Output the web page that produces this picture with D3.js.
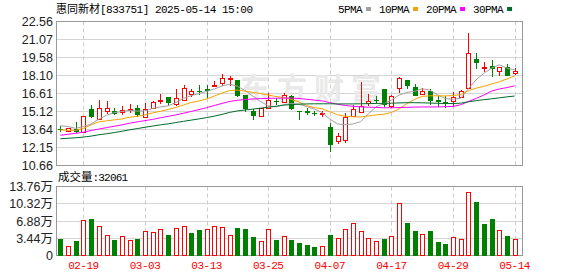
<!DOCTYPE html>
<html>
<head>
<meta charset="utf-8">
<script src="https://cdn.jsdelivr.net/npm/d3@7"></script>
<style>
  body { margin: 0; background: #fff; }
  svg { display: block; }
</style>
</head>
<body>
<svg id="chart" width="578" height="276"></svg>
<script>
// datos diarios (60 sesiones)
const dates = [
  "2025-02-14","2025-02-17","2025-02-18","2025-02-19","2025-02-20","2025-02-21","2025-02-24","2025-02-25","2025-02-26","2025-02-27",
  "2025-02-28","2025-03-03","2025-03-04","2025-03-05","2025-03-06","2025-03-07","2025-03-10","2025-03-11","2025-03-12","2025-03-13",
  "2025-03-14","2025-03-17","2025-03-18","2025-03-19","2025-03-20","2025-03-21","2025-03-24","2025-03-25","2025-03-26","2025-03-27",
  "2025-03-28","2025-03-31","2025-04-01","2025-04-02","2025-04-03","2025-04-07","2025-04-08","2025-04-09","2025-04-10","2025-04-11",
  "2025-04-14","2025-04-15","2025-04-16","2025-04-17","2025-04-18","2025-04-21","2025-04-22","2025-04-23","2025-04-24","2025-04-25",
  "2025-04-28","2025-04-29","2025-04-30","2025-05-06","2025-05-07","2025-05-08","2025-05-09","2025-05-12","2025-05-13","2025-05-14"
];
const openP = [
  13.66,13.50,13.69,13.45,15.31,14.50,15.20,15.15,15.08,15.33,
  15.39,14.70,15.44,16.02,16.30,15.72,16.07,16.56,16.80,16.95,
  17.28,17.44,17.82,17.72,16.48,15.20,14.78,15.39,15.96,15.94,
  16.40,15.16,15.17,15.00,14.98,13.88,12.66,12.73,14.76,15.12,
  15.80,16.04,16.95,15.60,17.03,17.72,17.12,16.57,16.81,16.07,
  15.90,15.95,16.35,17.03,19.50,18.78,18.87,18.48,18.81,18.27
];
const highP = [
  13.96,13.80,14.27,14.78,15.69,16.07,15.97,15.38,15.58,15.72,
  15.66,15.80,15.96,16.54,16.35,16.95,17.31,16.95,17.31,17.31,
  17.63,18.21,18.05,17.74,16.52,15.31,15.42,16.63,16.26,16.67,
  16.45,15.18,15.39,15.17,15.20,14.20,13.34,14.98,15.70,17.55,
  16.58,16.40,16.97,16.48,17.99,17.75,17.39,17.03,16.95,16.43,
  16.40,16.76,16.90,21.62,19.96,19.22,19.41,18.80,19.03,18.70
];
const lowP = [
  13.40,13.42,13.36,13.40,14.57,14.49,14.93,14.82,14.84,14.98,
  14.65,14.68,15.40,15.72,15.61,15.60,16.00,16.35,16.48,16.26,
  17.12,17.22,17.22,16.35,15.10,14.43,14.65,15.30,15.66,15.80,
  15.25,14.45,14.84,14.72,14.65,11.76,12.46,12.52,14.70,14.98,
  15.60,15.85,15.52,15.45,16.67,17.00,16.38,16.45,15.66,15.53,
  15.38,15.55,16.20,17.00,18.62,18.40,17.99,18.07,18.05,18.10
];
const closeP = [
  13.62,13.74,13.40,14.76,14.65,15.39,15.40,14.95,15.28,15.37,
  14.84,15.36,15.94,16.07,15.80,16.21,17.03,16.80,16.74,16.82,
  17.33,17.85,17.87,16.40,15.31,14.79,15.39,16.07,15.90,16.48,
  15.31,15.10,14.98,14.94,15.02,12.38,13.12,14.70,15.31,15.58,
  16.00,16.01,15.70,16.38,17.85,17.27,16.40,16.84,16.02,15.90,
  15.86,16.33,16.81,19.99,19.14,18.83,18.60,18.76,18.07,18.46
];
// volumen en 万 (10 000 acciones)
const volume = [
  3.39,1.93,2.86,6.98,7.18,5.98,3.99,3.05,3.79,3.13,
  3.39,4.79,4.59,5.19,3.99,5.58,5.98,4.45,4.99,5.19,
  5.98,5.78,3.99,5.58,5.38,3.59,2.99,5.19,3.05,3.79,
  3.19,2.45,2.19,1.60,1.93,4.13,3.53,5.32,6.52,4.93,
  3.53,2.93,3.33,3.93,10.51,6.58,4.79,4.33,4.79,2.79,
  2.39,3.73,3.33,12.70,10.57,6.38,7.18,5.13,3.79,3.2061
];
const ma5 = [
  13.94,13.88,13.73,13.88,14.10,14.48,14.81,15.03,15.12,15.22,
  15.15,15.18,15.37,15.50,15.59,15.86,16.21,16.43,16.60,16.78,
  16.98,17.23,17.38,17.21,16.86,16.40,15.94,15.60,15.50,15.68,
  15.79,15.72,15.53,15.32,15.04,14.50,14.09,14.03,14.09,14.28,
  14.93,15.51,15.78,16.06,16.48,16.70,16.78,17.00,16.89,16.49,
  16.20,16.13,16.22,17.00,17.74,18.27,18.70,18.98,18.71,18.56
];
const ma10 = [
  13.61,13.57,13.57,13.73,14.02,14.27,14.35,14.43,14.51,14.65,
  14.72,14.84,15.01,15.14,15.29,15.46,15.66,15.87,15.99,16.16,
  16.40,16.65,16.85,16.90,16.80,16.70,16.61,16.48,16.36,16.28,
  16.13,15.90,15.61,15.44,15.35,15.10,14.86,14.73,14.69,14.67,
  14.75,14.84,14.90,15.04,15.34,15.77,16.12,16.37,16.42,16.42,
  16.41,16.44,16.52,16.85,17.05,17.20,17.39,17.58,17.81,18.06
];
const ma20 = [
  13.16,13.24,13.32,13.42,13.55,13.67,13.79,13.90,14.02,14.15,
  14.27,14.37,14.47,14.60,14.72,14.84,14.98,15.13,15.28,15.44,
  15.62,15.79,15.95,16.05,16.11,16.16,16.19,16.21,16.22,16.23,
  16.23,16.20,16.13,16.06,16.00,15.86,15.72,15.62,15.55,15.51,
  15.48,15.46,15.43,15.43,15.45,15.47,15.48,15.50,15.50,15.50,
  15.52,15.54,15.68,15.95,16.20,16.48,16.81,16.98,17.10,17.24
];
const ma30 = [
  12.87,12.91,12.95,13.01,13.09,13.20,13.28,13.38,13.49,13.61,
  13.71,13.82,13.92,14.02,14.10,14.21,14.31,14.41,14.51,14.62,
  14.74,14.88,15.05,15.17,15.25,15.32,15.40,15.48,15.56,15.65,
  15.69,15.73,15.75,15.76,15.76,15.76,15.75,15.75,15.75,15.76,
  15.77,15.79,15.80,15.81,15.83,15.85,15.85,15.84,15.82,15.80,
  15.78,15.78,15.81,15.92,16.02,16.10,16.17,16.25,16.33,16.40
];

const priceTicks = [10.66, 12.15, 13.64, 15.12, 16.61, 18.10, 19.58, 21.07, 22.56];
const volTicks = [0, 3.44, 6.88, 10.32, 13.76];
const dateTicks = ["2025-02-19","2025-03-03","2025-03-13","2025-03-25","2025-04-07","2025-04-17","2025-04-29","2025-05-14"];
const maNames = ["5PMA", "10PMA", "20PMA", "30PMA"];
const maSeries = [ma5, ma10, ma20, ma30];
const stockName = "惠同新材";
const stockCode = "[833751] 2025-05-14 15:00";
const lastVolume = 32061;

// colores
const RED = "#ff0000";
const GREEN = "#008000";
const maColors = ["#a0a0a0", "#f5a200", "#ff00ff", "#006b2c"];

const svg = d3.select("#chart");
const left = 56, right = 522;
const pTop = 21.5, pBottom = 165.5;
const vTop = 186.5, vBottom = 255.5;

const x = d3.scaleBand().domain(dates).range([56.45, 518.45]);
const cx = d => Math.round(x(d) + x.bandwidth() / 2);
const yP = d3.scaleLinear().domain([priceTicks[0], priceTicks[priceTicks.length - 1]]).range([pBottom, pTop]);
const yV = d3.scaleLinear().domain([0, volTicks[volTicks.length - 1]]).range([vBottom, vTop]);

const bars = dates.map((d, i) => ({
  date: d,
  o: openP[i], h: highP[i], l: lowP[i], c: closeP[i],
  v: volume[i],
  prev: i ? closeP[i - 1] : openP[i]
}));

// rejilla
function grid(g, ticks, y, y0, y1) {
  g.selectAll("line.h")
    .data(ticks)
    .join("line")
    .attr("class", "h")
    .attr("x1", left).attr("x2", right + 0.5)
    .attr("y1", d => Math.round(y(d) - 0.5) + 0.5)
    .attr("y2", d => Math.round(y(d) - 0.5) + 0.5)
    .attr("stroke", "#d4d4d4");
  g.selectAll("line.v")
    .data(dateTicks)
    .join("line")
    .attr("class", "v")
    .attr("x1", d => cx(d) + 0.5).attr("x2", d => cx(d) + 0.5)
    .attr("y1", y0).attr("y2", y1)
    .attr("stroke", "#cccccc")
    .attr("stroke-dasharray", "4,3");
  g.append("rect")
    .attr("x", left + 0.5).attr("y", y0)
    .attr("width", right - left).attr("height", y1 - y0)
    .attr("fill", "none")
    .attr("stroke", "#999");
}

const gGridP = svg.append("g");
grid(gGridP, priceTicks, yP, pTop, pBottom);
const gGridV = svg.append("g");
grid(gGridV, volTicks, yV, vTop, vBottom);

// marca de agua
svg.append("text")
  .attr("x", 240).attr("y", 99)
  .attr("font-family", "Noto Sans CJK SC")
  .attr("font-size", 30)
  .attr("font-weight", "bold")
  .attr("letter-spacing", 7)
  .attr("fill", "#e9e9e9")
  .text("东方财富");

// velas
const gCandle = svg.append("g");
bars.forEach(b => {
  const xc = cx(b.date);
  const up = b.c >= b.o;
  const col = up ? RED : GREEN;
  const yTop = Math.round(yP(Math.max(b.o, b.c)));
  const yBot = Math.round(yP(Math.min(b.o, b.c)));
  const yH = Math.round(yP(b.h));
  const yL = Math.round(yP(b.l));
  if (up) {
    const hgt = Math.max(1, yBot - yTop);
    gCandle.append("line")
      .attr("x1", xc + 0.5).attr("x2", xc + 0.5)
      .attr("y1", yH).attr("y2", yTop)
      .attr("stroke", col);
    gCandle.append("line")
      .attr("x1", xc + 0.5).attr("x2", xc + 0.5)
      .attr("y1", yTop + hgt).attr("y2", yL)
      .attr("stroke", col);
    gCandle.append("rect")
      .attr("x", xc - 1.5).attr("y", yTop + 0.5)
      .attr("width", 4).attr("height", hgt)
      .attr("fill", "#fff")
      .attr("stroke", col);
  } else {
    gCandle.append("line")
      .attr("x1", xc + 0.5).attr("x2", xc + 0.5)
      .attr("y1", yH).attr("y2", yL)
      .attr("stroke", col);
    gCandle.append("rect")
      .attr("x", xc - 2).attr("y", yTop)
      .attr("width", 5).attr("height", Math.max(1, yBot - yTop))
      .attr("fill", col);
  }
});

// medias moviles
maSeries.forEach((s, k) => {
  const line = d3.line()
    .x((d, i) => x(dates[i]) + x.bandwidth() / 2)
    .y(d => yP(d));
  svg.append("path")
    .datum(s)
    .attr("d", line)
    .attr("fill", "none")
    .attr("stroke", maColors[k])
    .attr("stroke-width", 1);
});

// volumen
const gVol = svg.append("g");
bars.forEach(b => {
  const xc = cx(b.date);
  const up = b.c >= b.prev;
  const yt = Math.round(yV(b.v));
  if (up) {
    gVol.append("rect")
      .attr("x", xc - 1.5).attr("y", yt + 0.5)
      .attr("width", 4).attr("height", Math.round(vBottom) - yt - 1)
      .attr("fill", "#fff")
      .attr("stroke", RED);
  } else {
    gVol.append("rect")
      .attr("x", xc - 2).attr("y", yt)
      .attr("width", 5).attr("height", Math.round(vBottom) - yt)
      .attr("fill", GREEN);
  }
});

// ejes
const axisFont = "Liberation Sans, Arial, Noto Sans CJK SC, sans-serif";
const axP = svg.append("g")
  .attr("transform", `translate(${left},0)`)
  .call(d3.axisLeft(yP).tickValues(priceTicks).tickSize(0).tickPadding(3).tickFormat(d3.format(".2f")));
const axV = svg.append("g")
  .attr("transform", `translate(${left},0)`)
  .call(d3.axisLeft(yV).tickValues(volTicks).tickSize(0).tickPadding(3)
    .tickFormat(d => d === 0 ? "0" : d3.format(".2f")(d) + "万"));
[axP, axV].forEach(a => {
  a.select(".domain").remove();
  a.selectAll("text")
    .attr("font-family", axisFont)
    .attr("font-size", 12.5)
    .attr("fill", "#222");
});

const axX = svg.append("g")
  .attr("transform", `translate(0,${vBottom})`)
  .call(d3.axisBottom(x).tickValues(dateTicks).tickSize(0).tickPadding(6).tickFormat(d => d.slice(5)));
axX.select(".domain").remove();
axX.selectAll("text")
  .attr("font-family", "Liberation Mono, monospace")
  .attr("font-size", 11)
  .attr("letter-spacing", -0.5)
  .attr("fill", RED);

// titulo
const title = svg.append("text")
  .attr("x", 56).attr("y", 13)
  .attr("fill", "#000");
title.append("tspan")
  .attr("font-family", "Noto Sans CJK SC")
  .attr("font-size", 11)
  .text(stockName);
title.append("tspan")
  .attr("font-family", "Liberation Mono, monospace")
  .attr("font-size", 11)
  .attr("letter-spacing", -0.5)
  .text(stockCode);

const volTitle = svg.append("text")
  .attr("x", 58).attr("y", 181)
  .attr("fill", "#000");
volTitle.append("tspan")
  .attr("font-family", "Noto Sans CJK SC")
  .attr("font-size", 11.5)
  .text("成交量");
volTitle.append("tspan")
  .attr("font-family", "Liberation Mono, monospace")
  .attr("font-size", 11)
  .attr("letter-spacing", -0.8)
  .text(":" + lastVolume);

// leyenda
const legend = svg.append("g")
  .attr("font-family", "Liberation Mono, monospace")
  .attr("font-size", 11)
  .attr("letter-spacing", -0.6);
let lx = 338;
maNames.forEach((name, k) => {
  const t = legend.append("text").attr("x", lx).attr("y", 13).attr("fill", "#000").text(name);
  const w = t.node().getComputedTextLength();
  legend.append("rect")
    .attr("x", lx + w + 4).attr("y", 7)
    .attr("width", 5).attr("height", 4)
    .attr("fill", maColors[k]);
  lx += w + 4 + 5 + 8;
});
</script>
</body>
</html>
